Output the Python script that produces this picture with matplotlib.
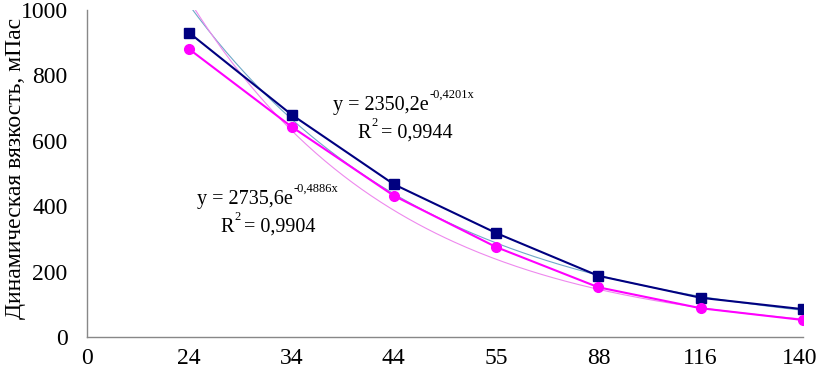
import numpy as np
import matplotlib
matplotlib.use("Agg")
import matplotlib.pyplot as plt
import matplotlib.transforms as mtransforms

plt.rcParams['font.family'] = ['Liberation Serif', 'DejaVu Serif']

categories = ['0', '24', '34', '44', '55', '88', '116', '140']
blue = [930, 680, 467, 318, 187, 120, 85]
pink = [880, 643, 432, 275, 152, 88, 52]

# exponential trendlines as given on chart (x counted from the first category = 1)
blue_a, blue_b = 2350.2, -0.4201
pink_a, pink_b = 2735.6, -0.4886

fig = plt.figure(figsize=(8.17, 3.76), dpi=100)
ax = fig.add_axes([87 / 817, 1 - 337 / 376, 716 / 817, 327 / 376])

pos = np.arange(1, len(categories))
xs = np.linspace(1, 7, 200)
ax.plot(xs, blue_a * np.exp(blue_b * (xs + 1)), color='#6fa8c8', lw=0.8)
ax.plot(xs, pink_a * np.exp(pink_b * (xs + 1)), color='#ee88ee', lw=0.8)

ax.plot(pos, blue, color='#000080', lw=1.5, marker='s', ms=7)
ax.plot(pos, pink, color='#ff00ff', lw=1.5, marker='o', ms=7)

ax.set_xlim(0, 7)
ax.set_ylim(0, 1000)
ax.set_xticks(range(len(categories)))
ax.set_xticklabels(categories)
ax.set_yticks([0, 200, 400, 600, 800, 1000])
ax.tick_params(length=0, labelsize=17)
ax.tick_params(axis='x', pad=8)
ax.tick_params(axis='y', pad=14)
# nudge last label so it stays inside the figure
last = ax.get_xticklabels()[-1]
last.set_transform(last.get_transform() + mtransforms.ScaledTranslation(-3 / 100, 0, fig.dpi_scale_trans))
for s in ['top', 'right']:
    ax.spines[s].set_visible(False)
for s in ['left', 'bottom']:
    ax.spines[s].set_color('#888888')
    ax.spines[s].set_linewidth(1)
fig.text(16 / 817, 1 - 168 / 376, 'Динамическая вязкость, мПас', fontsize=17,
         rotation=90, ha='center', va='center')

renderer = fig.canvas.get_renderer()


def put(x, y, s, size):
    t = fig.text(x / 817, 1 - y / 376, s, fontsize=size, va='baseline')
    return t.get_window_extent(renderer=renderer).x1


def eq_label(x, y, base, sup, rest=''):
    x1 = put(x, y, base, 14.5)
    x2 = put(x1 + 1, y - 12, sup, 9)
    if rest:
        put(x2 + 3, y, rest, 14.5)


eq_label(333, 110, 'y = 2350,2e', '-0,4201x')
eq_label(357, 138, 'R', '2', '= 0,9944')

eq_label(197, 204, 'y = 2735,6e', '-0,4886x')
eq_label(220, 232, 'R', '2', '= 0,9904')

fig.savefig('out.png', dpi=100)
